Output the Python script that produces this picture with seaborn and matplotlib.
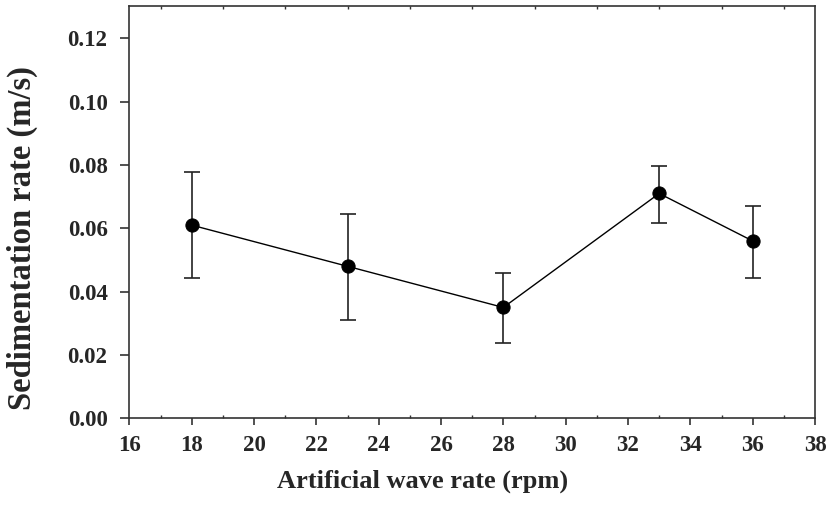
import numpy as np
import pandas as pd
import matplotlib
matplotlib.use("Agg")
import matplotlib.pyplot as plt
import seaborn as sns
from matplotlib.ticker import MultipleLocator

# Data
wave_rate = [18, 23, 28, 33, 36]
sed_rate = [0.061, 0.048, 0.035, 0.071, 0.056]
err_low = [0.0444, 0.0310, 0.0238, 0.0618, 0.0442]
err_high = [0.0777, 0.0646, 0.0460, 0.0798, 0.0671]
y_ticks = [0.00, 0.02, 0.04, 0.06, 0.08, 0.10, 0.12]

x_label = "Artificial wave rate (rpm)"
y_label = "Sedimentation rate (m/s)"

sns.set_theme(style="ticks")
plt.rcParams['font.family'] = ['Liberation Serif', 'DejaVu Serif']
plt.rcParams['font.weight'] = 'bold'

df = pd.DataFrame({"x": wave_rate, "y": sed_rate})

fig = plt.figure(figsize=(8.27, 5.08), dpi=100)
ax = fig.add_axes([0.1564, 0.1766, 0.9855 - 0.1564, 0.9888 - 0.1766])

yerr = np.array([np.array(sed_rate) - np.array(err_low),
                 np.array(err_high) - np.array(sed_rate)])
ax.errorbar(wave_rate, sed_rate, yerr=yerr, fmt='none', ecolor='#222222',
            elinewidth=1.2, capsize=6, capthick=1.2, zorder=2)
sns.lineplot(data=df, x="x", y="y", ax=ax, color='black', linewidth=1.0,
             marker='o', markersize=9.5, markerfacecolor='black',
             markeredgecolor='black', zorder=3)

ax.set_xlim(16, 38)
ax.set_ylim(0, 0.1303)
ax.xaxis.set_major_locator(MultipleLocator(2))
ax.xaxis.set_minor_locator(MultipleLocator(1))
ax.set_yticks(y_ticks)
ax.set_yticklabels([f"{v:.2f}" for v in y_ticks])

for s in ax.spines.values():
    s.set_color('#333333')
    s.set_linewidth(1.2)

ax.tick_params(axis='x', which='major', direction='out', length=4.8, width=1.2,
               color='#333333', labelsize=16.5, pad=7)
ax.tick_params(axis='y', which='major', direction='out', length=6.2, width=1.2,
               color='#333333', labelsize=16.5, pad=9.5)
ax.tick_params(axis='x', which='minor', direction='in', length=2.5, width=1.0,
               color='#333333', top=True, bottom=True)
for lab in ax.get_xticklabels() + ax.get_yticklabels():
    lab.set_fontweight('bold')

ax.set_xlabel(x_label, fontsize=19, fontweight='bold')
ax.set_ylabel(y_label, fontsize=23.5, fontweight='bold')
ax.xaxis.set_label_coords(0.427, -0.125)
ax.yaxis.set_label_coords(-0.156, 0.437)
ax.yaxis.label.set_va('center')
ax.xaxis.label.set_va('top')

fig.savefig("out.png", dpi=100)
